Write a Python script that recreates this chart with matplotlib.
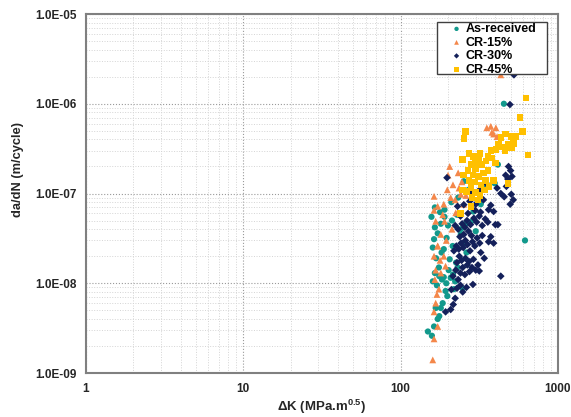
import numpy as np
import matplotlib.pyplot as plt
from matplotlib.patches import Rectangle
from matplotlib.ticker import FixedLocator, FuncFormatter, LogLocator, NullFormatter

plt.rcParams['font.family'] = ['Liberation Sans', 'DejaVu Sans']
plt.rcParams['mathtext.fontset'] = 'custom'
plt.rcParams['mathtext.bf'] = 'Liberation Sans:bold'
plt.rcParams['mathtext.rm'] = 'Liberation Sans'

# fatigue crack growth data: dK in MPa.m^0.5, da/dN in m/cycle
as_received_dk = [
    149, 158, 163, 167, 172, 176, 180, 185, 193, 198, 218, 248,
    160, 165, 170, 176, 183, 188, 195, 202, 208, 215, 222, 230,
    160, 163, 168, 175, 182, 188, 196, 205, 214, 225, 241, 252, 262,
    157, 165, 172, 180, 190, 200, 212, 228, 241, 259, 279, 290, 300,
    165, 178, 190, 210, 232, 252, 270, 312, 323, 345, 396, 415,
    453, 617]
as_received_dadn = [
    2.9e-9, 2.6e-9, 3.3e-9, 5.3e-9, 4.0e-9, 4.3e-9, 5.3e-9, 6.0e-9, 8.2e-9, 7.2e-9, 8.6e-9, 8.7e-9,
    1.05e-8, 1.3e-8, 9.5e-9, 1.2e-8, 1.1e-8, 1.17e-8, 1.0e-8, 1.4e-8, 1.15e-8, 1.25e-8, 1.05e-8, 1.5e-8,
    2.5e-8, 3.1e-8, 1.9e-8, 1.5e-8, 2.2e-8, 2.4e-8, 3.2e-8, 1.85e-8, 2.6e-8, 1.7e-8, 4.0e-8, 2.8e-8, 2.2e-8,
    5.5e-8, 4.2e-8, 3.6e-8, 4.6e-8, 5.5e-8, 4.4e-8, 5.0e-8, 5.8e-8, 3.5e-8, 4.6e-8, 4.8e-8, 6.3e-8, 3.8e-8,
    7.0e-8, 6.2e-8, 6.6e-8, 8.0e-8, 9.0e-8, 1.37e-7, 1.1e-7, 8.1e-8, 7.6e-8, 1.15e-7, 1.3e-7, 2.1e-7,
    1.0e-6, 3.0e-8]

cr15_dk = [
    160, 163, 172, 163, 167, 170, 175, 165, 167, 180, 172, 163, 188, 193, 178,
    172, 180, 167, 190, 163, 188, 172, 208, 224, 241, 252, 198, 215,
    200, 205, 232, 163, 185, 195, 212, 235, 260, 270, 245, 222,
    353, 374, 390, 403, 410, 380, 433]
cr15_dadn = [
    1.4e-9, 2.4e-9, 3.3e-9, 4.8e-9, 6.0e-9, 7.5e-9, 8.6e-9, 1.1e-8, 1.4e-8, 1.3e-8, 2.6e-8, 2.0e-8, 2.0e-8, 1.55e-8, 1.8e-8,
    2.6e-8, 3.5e-8, 4.9e-8, 4.9e-8, 9.3e-8, 7.6e-8, 7.2e-8, 9.0e-8, 6.1e-8, 9.8e-8, 7.6e-8, 1.1e-7, 1.25e-7,
    1.6e-7, 2.0e-7, 1.7e-7, 6.5e-8, 5.8e-8, 3.0e-8, 4.0e-8, 1.15e-7, 9.5e-8, 1.05e-7, 1.35e-7, 8.5e-8,
    5.4e-7, 5.6e-7, 4.6e-7, 5.4e-7, 4.3e-7, 4.8e-7, 2.1e-6]

cr30_dk = [
    193, 208, 216, 222, 210, 228, 240, 248, 262, 288, 433,
    215, 224, 232, 240, 248, 256, 265, 274, 284, 300, 310, 316, 228, 244, 258, 272, 290, 323, 340, 236,
    218, 226, 234, 242, 250, 258, 266, 276, 286, 296, 306, 318, 330, 362, 390, 374, 252, 270, 238, 282,
    222, 232, 246, 256, 264, 278, 292, 304, 316, 330, 358, 345, 400, 415, 240, 268, 298, 322, 362, 390,
    230, 252, 275, 300, 336, 374, 433, 455, 497, 505, 520, 280, 318, 410,
    197, 465, 485, 500, 480, 510, 470, 350,
    495, 525]
cr30_dadn = [
    4.8e-9, 5.1e-9, 5.8e-9, 6.8e-9, 8.5e-9, 8.8e-9, 9.5e-9, 8.0e-9, 9.0e-9, 9.7e-9, 1.2e-8,
    1.2e-8, 1.4e-8, 1.1e-8, 1.3e-8, 1.5e-8, 1.25e-8, 1.6e-8, 1.35e-8, 1.5e-8, 1.4e-8, 1.6e-8, 1.37e-8, 1.7e-8, 1.8e-8, 1.9e-8, 1.75e-8, 1.85e-8, 2.2e-8, 1.9e-8, 2.0e-8,
    2.3e-8, 2.6e-8, 2.4e-8, 2.8e-8, 2.5e-8, 3.0e-8, 2.7e-8, 2.3e-8, 2.9e-8, 2.6e-8, 3.2e-8, 2.8e-8, 3.4e-8, 2.9e-8, 2.8e-8, 3.3e-8, 3.5e-8, 3.8e-8, 3.3e-8, 3.4e-8,
    4.4e-8, 4.0e-8, 4.6e-8, 4.2e-8, 5.0e-8, 4.5e-8, 5.3e-8, 4.8e-8, 5.6e-8, 4.4e-8, 4.8e-8, 5.2e-8, 4.5e-8, 4.5e-8, 5.6e-8, 6.0e-8, 6.5e-8, 6.2e-8, 6.6e-8, 6.3e-8,
    7.2e-8, 7.5e-8, 8.2e-8, 7.6e-8, 8.5e-8, 7.4e-8, 1.0e-7, 9.2e-8, 7.6e-8, 9.8e-8, 8.5e-8, 1.05e-7, 1.1e-7, 1.15e-7,
    1.5e-7, 1.6e-7, 2.0e-7, 1.8e-7, 1.45e-7, 1.55e-7, 1.2e-7, 1.3e-7,
    9.8e-7, 2.1e-6]

cr45_dk = [
    259, 252, 433, 465, 502, 541, 596, 573, 625, 645,
    420, 480, 520, 403, 374, 505, 440, 460,
    248, 290, 312, 348, 279, 300, 330, 380, 400, 360, 320, 272,
    358, 268, 288, 312, 335, 250, 390, 272, 295, 323, 345, 480, 300,
    279, 300, 262, 320, 285, 340, 279, 241, 248, 310, 365]
cr45_dadn = [
    4.9e-7, 4.1e-7, 4.2e-7, 4.6e-7, 4.3e-7, 4.3e-7, 4.9e-7, 7.0e-7, 1.16e-6, 2.7e-7,
    3.5e-7, 3.5e-7, 3.6e-7, 3.1e-7, 3.0e-7, 3.2e-7, 3.3e-7, 3.0e-7,
    2.4e-7, 2.6e-7, 2.4e-7, 2.3e-7, 2.1e-7, 2.2e-7, 2.1e-7, 2.5e-7, 2.2e-7, 2.6e-7, 2.8e-7, 2.8e-7,
    1.8e-7, 1.8e-7, 1.6e-7, 1.55e-7, 1.7e-7, 1.6e-7, 1.4e-7, 1.4e-7, 1.35e-7, 1.25e-7, 1.4e-7, 1.3e-7, 1.9e-7,
    1.17e-7, 1.03e-7, 1.05e-7, 9.5e-8, 9.0e-8, 1.1e-7, 7.2e-8, 6.0e-8, 1.1e-7, 8.5e-8, 1.2e-7]

y_ticks = [1e-9, 1e-8, 1e-7, 1e-6, 1e-5]
x_ticks = [1, 10, 100, 1000]

fig = plt.figure(figsize=(5.71, 4.17), dpi=100)
ax = fig.add_axes([0.1506, 0.1055, 0.8266, 0.8609])

ax.scatter(as_received_dk, as_received_dadn, s=20, marker='o', color='#12998C',
           edgecolors='none', label='As-received', zorder=3)
ax.scatter(cr15_dk, cr15_dadn, s=24, marker='^', color='#F4874A',
           edgecolors='none', label='CR-15%', zorder=3)
ax.scatter(cr30_dk, cr30_dadn, s=15, marker='D', color='#14205A',
           edgecolors='none', label='CR-30%', zorder=3)
ax.scatter(cr45_dk, cr45_dadn, s=22, marker='s', color='#FFC000',
           edgecolors='none', label='CR-45%', zorder=3)

ax.set_xscale('log')
ax.set_yscale('log')
ax.set_xlim(1, 1000)
ax.set_ylim(1e-9, 1e-5)

ax.xaxis.set_major_locator(FixedLocator(x_ticks))
ax.xaxis.set_major_formatter(FuncFormatter(lambda v, p: '%d' % v))
ax.yaxis.set_major_locator(FixedLocator(y_ticks))
ax.yaxis.set_major_formatter(FuncFormatter(lambda v, p: '%.1E' % v))
ax.xaxis.set_minor_locator(LogLocator(base=10, subs=np.arange(2, 10)))
ax.yaxis.set_minor_locator(LogLocator(base=10, subs=np.arange(2, 10)))
ax.xaxis.set_minor_formatter(NullFormatter())
ax.yaxis.set_minor_formatter(NullFormatter())

ax.tick_params(which='both', length=0, labelsize=8.5, labelcolor='#262626')
ax.tick_params(axis='x', pad=7)
ax.tick_params(axis='y', pad=7)
for lbl in ax.get_xticklabels() + ax.get_yticklabels():
    lbl.set_fontweight('bold')

ax.grid(which='major', color='#9a9a9a', linestyle=':', linewidth=0.8, zorder=0)
ax.grid(which='minor', color='#d4d4d4', linestyle=':', linewidth=0.7, zorder=0)
ax.set_axisbelow(True)

for sp in ax.spines.values():
    sp.set_color('#808080')
    sp.set_linewidth(1.5)

ax.set_xlabel(r'ΔK (MPa.m$^{\mathbf{0.5}}$)', fontsize=9.5, fontweight='bold',
              color='#262626')
ax.set_ylabel('da/dN (m/cycle)', fontsize=9.3, fontweight='bold', color='#262626')
ax.xaxis.set_label_coords(0.5, -0.07)
ax.yaxis.set_label_coords(-0.132, 0.568)

# legend box drawn separately so it can be wider than the entries
box = Rectangle((0.744, 0.833), 0.233, 0.145, transform=ax.transAxes,
                facecolor='white', edgecolor='#404040', linewidth=1.0, zorder=4)
ax.add_patch(box)
leg = ax.legend(loc='upper left', bbox_to_anchor=(0.744, 0.978), frameon=False,
                borderpad=0.1, labelspacing=0.12, handletextpad=-0.7,
                handlelength=2.9, borderaxespad=0,
                prop={'weight': 'bold', 'size': 9}, markerscale=0.7)
leg.set_zorder(5)

fig.savefig('out.png', dpi=100)
